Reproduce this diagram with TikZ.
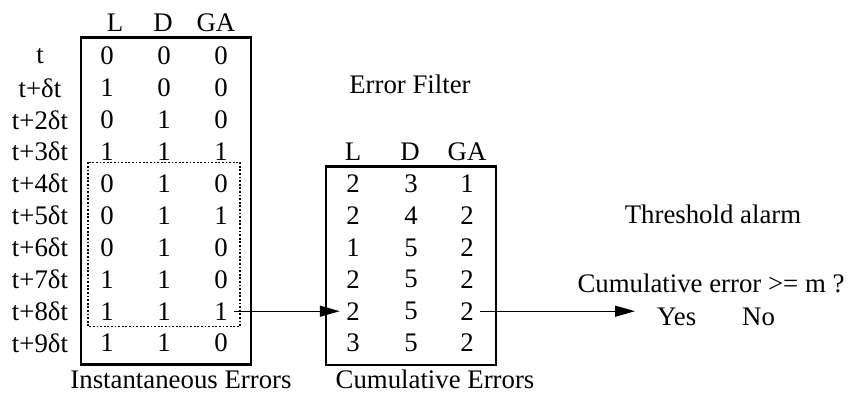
\documentclass[tikz,border=0pt]{standalone}
\usepackage{fontspec}
\setmainfont{Liberation Serif}
\usetikzlibrary{positioning,arrows.meta,calc}
\tikzset{
  tablebox/.style={rectangle,draw,line width=2.6pt,inner sep=0pt},
  window/.style  ={draw,line width=1.8pt,dash pattern=on 1.8pt off 1.8pt},
  cell/.style    ={inner sep=0pt,minimum width=26pt,minimum height=30pt},
  caption/.style ={anchor=base,inner sep=0pt},
  flow/.style    ={-{Triangle[length=20pt,width=11pt]},line width=1.3pt},
}

\begin{document}
\begin{tikzpicture}[x=1pt,y=-1pt,font=\fontsize{26.8pt}{32pt}\selectfont]
  \useasboundingbox (0,0) rectangle (849,394);
  \node[tablebox,minimum width=170pt,minimum height=326.6pt] (inbox) at (166,201) {};
  \node[tablebox,minimum width=170pt,minimum height=198.3pt] (cumbox) at (411,265.85) {};
  \foreach \h/\x in {L/115,D/163,GA/216} \node[caption] (inhead-\h) at (\x,31.5) {\h};
  \foreach \h/\x in {L/353,D/410,GA/467} \node[caption] (cumhead-\h) at (\x,160) {\h};
  \foreach \lab/\a/\b/\c [count=\r from 0] in {t/0/0/0,t+δt/1/0/0,t+2δt/0/1/0,t+3δt/1/1/1,
      t+4δt/0/1/0,t+5δt/0/1/1,t+6δt/0/1/0,t+7δt/1/1/0,t+8δt/1/1/1,t+9δt/1/1/0}{
    \node[cell] (lab-\r) at (40,56+31.9*\r) {\lab};
    \node[cell] (in-\r-1) at (107,56+31.9*\r) {\a};
    \node[cell] (in-\r-2) at (164,56+31.9*\r) {\b};
    \node[cell] (in-\r-3) at (221,56+31.9*\r) {\c};
  }
  \foreach \a/\b/\c [count=\r from 4] in {2/3/1,2/4/2,1/5/2,2/5/2,2/5/2,3/5/2}{
    \node[cell] (cum-\r-1) at (353,56+31.9*\r) {\a};
    \node[cell] (cum-\r-2) at (411,56+31.9*\r) {\b};
    \node[cell] (cum-\r-3) at (467,56+31.9*\r) {\c};
  }
  \draw[window] ([shift={(-6pt,6pt)}]in-4-1.north west) rectangle ([shift={(6pt,0pt)}]in-8-3.south east);
  \node[caption] (inlabel) at (181,388) {Instantaneous Errors};
  \node[caption] (cumlabel) at (435,388) {Cumulative Errors};
  \node[caption] (filter) at (410,93) {Error Filter};
  \node[caption] (alarm) at (713,223) {Threshold alarm};
  \node[caption] (question) at (711,292) {Cumulative error >= m ?};
  \node[caption,anchor=base west] (yes) at (657,325) {Yes};
  \node[caption,anchor=base west] (no) at (742,325) {No};
  \draw[flow] (in-8-3.east) -- (cum-8-1.west);
  \draw[flow,shorten >=22pt] (cum-8-3.east) -- (cum-8-3.east -| yes.west);
\end{tikzpicture}
\end{document}
